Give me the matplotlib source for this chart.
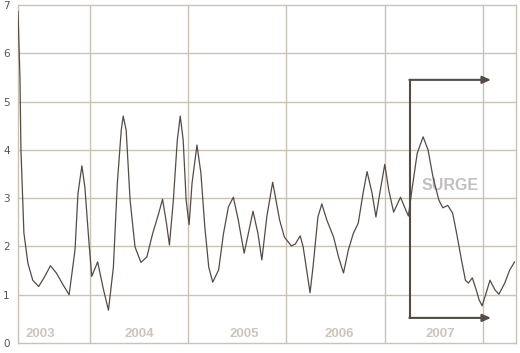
import matplotlib
matplotlib.use("Agg")
import matplotlib.pyplot as plt

# readings: x in fractional years, y in value units
years = [2003.27, 2003.29, 2003.30, 2003.33, 2003.37, 2003.42, 2003.48, 2003.54, 2003.60,
         2003.66, 2003.73, 2003.79, 2003.85, 2003.88, 2003.92, 2003.95, 2003.99, 2004.02,
         2004.08, 2004.14, 2004.19, 2004.24, 2004.28, 2004.32, 2004.34, 2004.37, 2004.41,
         2004.46, 2004.52, 2004.58, 2004.64, 2004.70, 2004.74, 2004.78, 2004.81, 2004.85,
         2004.89, 2004.92, 2004.95, 2004.98, 2005.01, 2005.04, 2005.09, 2005.13, 2005.17,
         2005.21, 2005.25, 2005.31, 2005.36, 2005.41, 2005.46, 2005.51, 2005.57, 2005.62,
         2005.66, 2005.71, 2005.75, 2005.80, 2005.86, 2005.88, 2005.93, 2005.98, 2006.05,
         2006.09, 2006.14, 2006.17, 2006.21, 2006.24, 2006.27, 2006.32, 2006.36, 2006.41,
         2006.48, 2006.53, 2006.58, 2006.63, 2006.68, 2006.73, 2006.78, 2006.82, 2006.87,
         2006.91, 2006.95, 2007.00, 2007.04, 2007.09, 2007.16, 2007.20, 2007.24, 2007.28,
         2007.33, 2007.39, 2007.44, 2007.49, 2007.55, 2007.59, 2007.64, 2007.69, 2007.73,
         2007.78, 2007.82, 2007.85, 2007.89, 2007.93, 2007.96, 2007.99, 2008.03, 2008.07,
         2008.12, 2008.16, 2008.22, 2008.27, 2008.32]
values = [6.87, 5.50, 4.00, 2.28, 1.66, 1.30, 1.17, 1.37, 1.60,
          1.45, 1.20, 1.00, 1.93, 3.10, 3.67, 3.23, 2.13, 1.38,
          1.68, 1.10, 0.68, 1.57, 3.30, 4.41, 4.70, 4.41, 2.96,
          1.99, 1.67, 1.78, 2.27, 2.68, 2.98, 2.48, 2.03, 2.96,
          4.20, 4.70, 4.20, 2.96, 2.45, 3.31, 4.10, 3.52, 2.40,
          1.57, 1.26, 1.51, 2.27, 2.82, 3.02, 2.55, 1.86, 2.34,
          2.73, 2.27, 1.72, 2.61, 3.33, 3.11, 2.55, 2.19, 2.01,
          2.05, 2.22, 1.99, 1.45, 1.04, 1.57, 2.61, 2.88, 2.55,
          2.19, 1.78, 1.45, 1.93, 2.27, 2.48, 3.11, 3.55, 3.11,
          2.61, 3.11, 3.70, 3.17, 2.71, 3.02, 2.82, 2.63, 3.23,
          3.93, 4.27, 4.00, 3.44, 2.96, 2.80, 2.85, 2.69, 2.28,
          1.72, 1.30, 1.24, 1.35, 1.10, 0.89, 0.77, 1.03, 1.30,
          1.10, 1.01, 1.24, 1.51, 1.68]

year_labels = ["2003", "2004", "2005", "2006", "2007"]
year_label_x = [2003.50, 2004.50, 2005.57, 2006.54, 2007.56]
grid_years = [2004, 2005, 2006, 2007, 2008]

grid_col = "#cbc2b6"
line_col = "#554b43"

fig = plt.figure(figsize=(5.2, 3.53), dpi=100)
ax = fig.add_axes([0.0346, 0.0283, 0.958, 0.9575])

ax.set_xlim(2003.27, 2008.336)
ax.set_ylim(0, 7)

for gx in grid_years:
    ax.axvline(gx, color=grid_col, lw=1, zorder=1)
for gy in range(1, 7):
    ax.axhline(gy, color=grid_col, lw=1, zorder=1)
for s in ax.spines.values():
    s.set_color(grid_col)
    s.set_linewidth(1)

ax.set_xticks([])
ax.set_yticks(range(0, 8))
ax.tick_params(axis="y", length=0, pad=6, labelsize=7.5, labelcolor="#555555")

ax.plot(years, values, color=line_col, lw=0.9, zorder=3,
        solid_joinstyle="round", solid_capstyle="round")

for lbl, lx in zip(year_labels, year_label_x):
    ax.text(lx, 0.19, lbl, ha="center", va="center", fontsize=9.5,
            fontweight="bold", color="#cdc5bb", family="Liberation Sans", zorder=2)

ax.text(2007.66, 3.27, "SURGE", ha="center", va="center", fontsize=11.5,
        fontweight="bold", color="#c0c0c0", family="Liberation Sans", zorder=2)

# bracket with arrows
arrow_col = "#554b42"
ax.plot([2007.257, 2007.257], [0.52, 5.45], color=arrow_col, lw=1.5, zorder=4)
for ay in [5.45, 0.52]:
    ax.annotate("", xy=(2008.08, ay), xytext=(2007.25, ay),
                arrowprops=dict(arrowstyle="-|>,head_length=0.5,head_width=0.22",
                                color=arrow_col, lw=1.5, shrinkA=0, shrinkB=0),
                zorder=4)

fig.savefig("out.png", dpi=100)
